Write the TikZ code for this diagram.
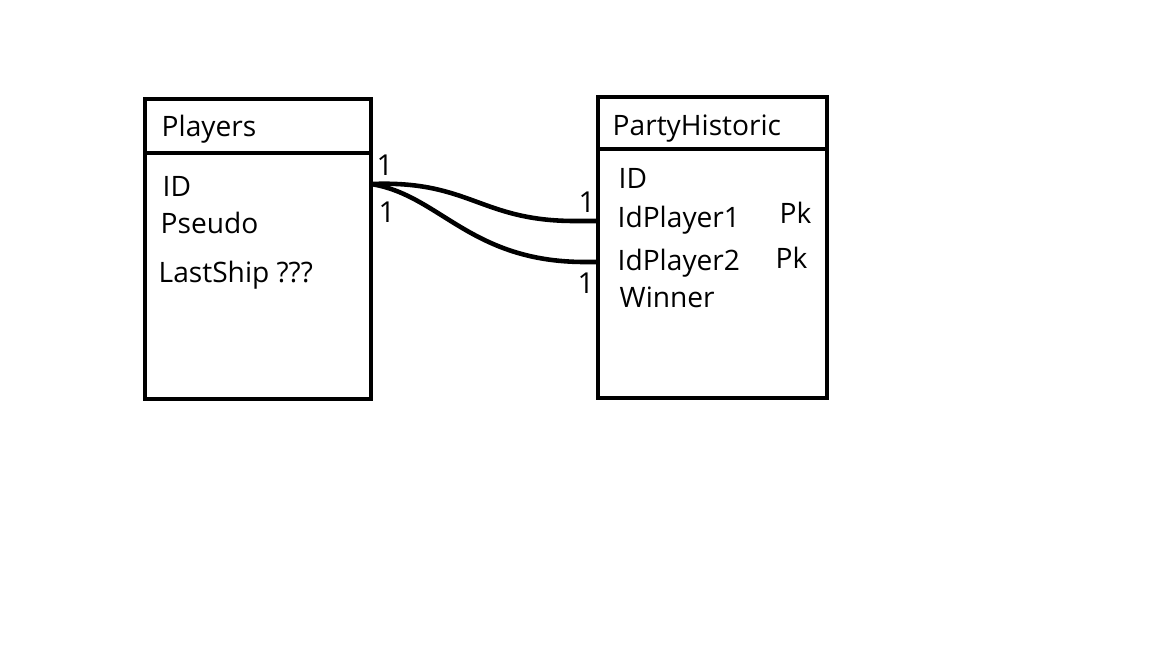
\documentclass[tikz,border=0pt]{standalone}
\usepackage{fontspec}
\setmainfont{Open Sans}
\usepackage{tikz}

\begin{document}
\begin{tikzpicture}[x=0.01cm,y=-0.01cm,
  field/.style={anchor=base west,inner sep=0pt,font=\fontsize{8}{9.6}\selectfont},
  card/.style={anchor=base west,inner sep=0pt,font=\fontsize{8.2}{9.8}\selectfont},
  box/.style={draw,line width=1.2pt}]

% Canvas
\useasboundingbox[fill=white] (0,0) rectangle (1152,648);

% Players table
\draw[box] (145,99) rectangle (371,399);
\draw[box] (145,153) -- (371,153);
\node[field] (playersTitle) at (161,136) {Players};
\node[field] (playersId) at (162,196) {ID};
\node[field] (playersPseudo) at (160,233) {Pseudo};
\node[field] (playersShip) at (158,282) {LastShip ???};

% PartyHistoric table
\draw[box] (598,97) rectangle (827,398);
\draw[box] (598,149) -- (827,149);
\node[field] (partyTitle) at (612,135) {PartyHistoric};
\node[field] (partyId) at (618,188) {ID};
\node[field] (partyP1) at (617,227) {IdPlayer1};
\node[field] (partyPk1) at (779,223) {Pk};
\node[field] (partyP2) at (617,270) {IdPlayer2};
\node[field] (partyPk2) at (775,268) {Pk};
\node[field] (partyWinner) at (619,307) {Winner};

% Links
\coordinate (fromId) at (371,184);
\coordinate (toP1) at (598,221);
\coordinate (toP2) at (598,262);
\draw[line width=1.3pt] (fromId) .. controls (470,180) and (480,221) .. (575,221) -- (toP1);
\draw[line width=1.3pt] (fromId) .. controls (440,195) and (470,262) .. (585,262) -- (toP2);

% Cardinalities
\node[card] (cardA) at (376,175) {1};
\node[card] (cardB) at (378,222) {1};
\node[card] (cardC) at (578,212) {1};
\node[card] (cardD) at (577,293) {1};

\end{tikzpicture}
\end{document}
